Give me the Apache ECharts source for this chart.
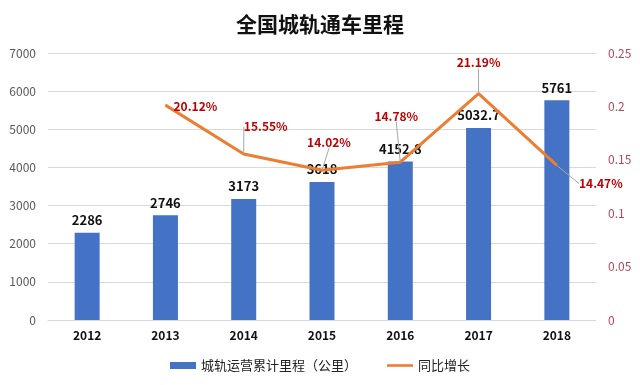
<!DOCTYPE html>
<html><head><meta charset="utf-8">
<script src="https://cdn.jsdelivr.net/npm/echarts@6/dist/echarts.min.js"></script>
<style>html,body{margin:0;padding:0;background:#fff}#c{width:640px;height:385px}</style>
</head><body><div id="c"></div>
<script>
const categories = ['2012','2013','2014','2015','2016','2017','2018'];
const mileage = [2286, 2746, 3173, 3618, 4152.8, 5032.7, 5761];
const growth = [null, 0.2012, 0.1555, 0.1402, 0.1478, 0.2119, 0.1447];
const growthLabels = ['', '20.12%', '15.55%', '14.02%', '14.78%', '21.19%', '14.47%'];
const leftTicks = [0, 7000, 1000];
const rightTicks = [0, 0.25, 0.05];

const labelShift = [[0,0],[30,1],[22,-27],[7,-28],[-4,-46],[0,-31],[44,18]];
const leader = [false, false, true, true, true, true, true];
const font = '"Noto Sans CJK SC", "Noto Sans", sans-serif';

const chart = echarts.init(document.getElementById('c'));
chart.setOption({
  backgroundColor: '#fff',
  animation: false,
  textStyle: {fontFamily: font},
  title: {text: '全国城轨通车里程', left: 'center', top: 9,
    textStyle: {fontSize: 21, fontWeight: 'bold', color: '#111', fontFamily: font}},
  legend: {bottom: 8, itemGap: 30, itemWidth: 26, itemHeight: 7,
    textStyle: {fontSize: 13, color: '#222', fontFamily: font},
    data: [{name: '城轨运营累计里程（公里）', icon: 'rect'}, {name: '同比增长', icon: 'path://M0,0 L30,0 L30,3 L0,3 Z'}]},
  grid: {left: 48, right: 44, top: 53, bottom: 65},
  xAxis: {type: 'category', data: categories,
    axisLine: {lineStyle: {color: '#d9d9d9'}}, axisTick: {show: false},
    axisLabel: {fontSize: 12, fontWeight: 'bold', color: '#111', margin: 9}},
  yAxis: [
    {type: 'value', min: leftTicks[0], max: leftTicks[1], interval: leftTicks[2],
      axisLine: {show: false}, axisTick: {show: false},
      axisLabel: {fontSize: 12, color: '#595959', margin: 12, formatter: v => String(v)},
      splitLine: {lineStyle: {color: '#d9d9d9'}}},
    {type: 'value', min: rightTicks[0], max: rightTicks[1], interval: rightTicks[2],
      axisLine: {show: false}, axisTick: {show: false}, splitLine: {show: false},
      axisLabel: {fontSize: 12, color: '#b5495b', margin: 12, formatter: v => String(+v.toFixed(2))}}
  ],
  series: [
    {name: '城轨运营累计里程（公里）', type: 'bar', data: mileage, barWidth: 25,
      itemStyle: {color: '#4472c4'}, z: 2,
      label: {show: true, position: 'top', fontSize: 13, fontWeight: 'bold', color: '#111', distance: 6}},
    {name: '同比增长', type: 'line', yAxisIndex: 1, symbol: 'circle', symbolSize: 1, showSymbol: true, z: 3,
      lineStyle: {color: '#ed7d31', width: 3}, itemStyle: {color: '#ed7d31'},
      labelLayout: p => ({dx: labelShift[p.dataIndex][0], dy: labelShift[p.dataIndex][1], hideOverlap: false}),
      labelLine: {show: true, lineStyle: {color: '#a6a6a6', width: 1}},
      data: growth.map((v, i) => ({value: v,
        labelLine: {show: leader[i], lineStyle: {color: '#a6a6a6', width: leader[i] ? 1 : 0, opacity: leader[i] ? 1 : 0}},
        label: {show: v !== null, formatter: growthLabels[i], position: 'inside',
          fontSize: 12, fontWeight: 'bold', color: '#c00000'}}))}
  ]
});
</script></body></html>
